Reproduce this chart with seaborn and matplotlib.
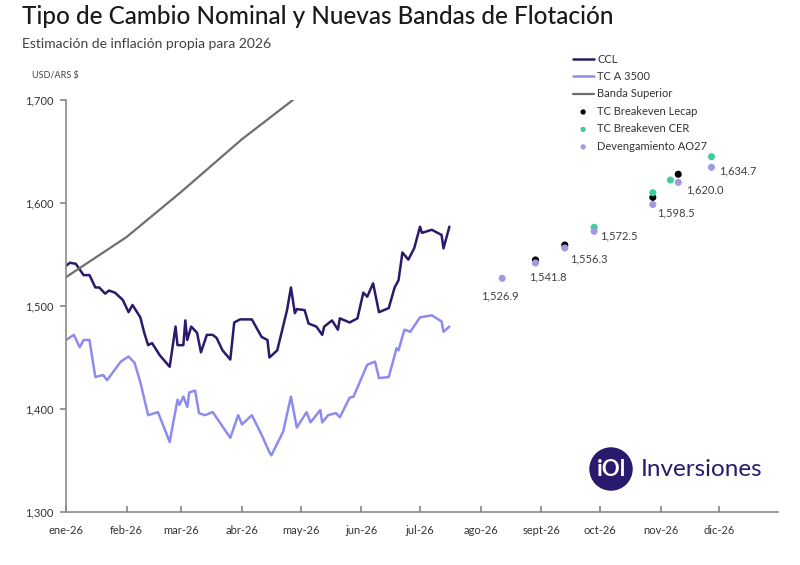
import pandas as pd
import seaborn as sns
import matplotlib.pyplot as plt
import matplotlib.ticker as mticker

sns.set_theme(style="white")
plt.rcParams['font.family'] = ['Lato', 'DejaVu Sans']

# CCL
ccl_dates = ["2026-01-01", "2026-01-03", "2026-01-06", "2026-01-10", "2026-01-13", "2026-01-16",
             "2026-01-18", "2026-01-21", "2026-01-23", "2026-01-26", "2026-01-30", "2026-02-02",
             "2026-02-04", "2026-02-08", "2026-02-10", "2026-02-12", "2026-02-14", "2026-02-18",
             "2026-02-23", "2026-02-26", "2026-02-27", "2026-03-02", "2026-03-03", "2026-03-04",
             "2026-03-06", "2026-03-09", "2026-03-11", "2026-03-14", "2026-03-17", "2026-03-19",
             "2026-03-22", "2026-03-26", "2026-03-28", "2026-03-31", "2026-04-06", "2026-04-11",
             "2026-04-14", "2026-04-15", "2026-04-19", "2026-04-24", "2026-04-26", "2026-04-28",
             "2026-04-29", "2026-05-03", "2026-05-05", "2026-05-09", "2026-05-12", "2026-05-13",
             "2026-05-17", "2026-05-20", "2026-05-21", "2026-05-26", "2026-05-30", "2026-06-02",
             "2026-06-04", "2026-06-07", "2026-06-10", "2026-06-15", "2026-06-18", "2026-06-20",
             "2026-06-22", "2026-06-25", "2026-06-28", "2026-07-01", "2026-07-02", "2026-07-07",
             "2026-07-12", "2026-07-13", "2026-07-16"]
ccl_values = [1539, 1542, 1541, 1530, 1530, 1518, 1518, 1512, 1515, 1513, 1506, 1494,
              1501, 1489, 1474, 1462, 1464, 1452, 1441, 1480, 1462, 1462, 1486, 1467,
              1480, 1474, 1455, 1472, 1472, 1469, 1457, 1448, 1484, 1487, 1487, 1470,
              1467, 1450, 1457, 1496, 1518, 1493, 1497, 1496, 1483, 1480, 1472, 1480,
              1486, 1477, 1488, 1484, 1488, 1513, 1509, 1522, 1494, 1498, 1518, 1525,
              1552, 1545, 1556, 1577, 1571, 1574, 1569, 1556, 1577]

# TC A 3500
tc_dates = ["2026-01-01", "2026-01-05", "2026-01-08", "2026-01-10", "2026-01-13", "2026-01-16",
            "2026-01-20", "2026-01-22", "2026-01-29", "2026-02-02", "2026-02-05", "2026-02-08",
            "2026-02-12", "2026-02-17", "2026-02-23", "2026-02-27", "2026-02-28", "2026-03-02",
            "2026-03-04", "2026-03-05", "2026-03-08", "2026-03-10", "2026-03-13", "2026-03-17",
            "2026-03-26", "2026-03-30", "2026-04-01", "2026-04-06", "2026-04-11", "2026-04-15",
            "2026-04-16", "2026-04-22", "2026-04-26", "2026-04-29", "2026-05-04", "2026-05-06",
            "2026-05-11", "2026-05-12", "2026-05-15", "2026-05-19", "2026-05-21", "2026-05-26",
            "2026-05-28", "2026-06-04", "2026-06-08", "2026-06-10", "2026-06-15", "2026-06-19",
            "2026-06-20", "2026-06-23", "2026-06-26", "2026-07-01", "2026-07-07", "2026-07-12",
            "2026-07-13", "2026-07-16"]
tc_values = [1467, 1472, 1460, 1467, 1467, 1431, 1433, 1428, 1446, 1451, 1445, 1426,
             1394, 1397, 1368, 1409, 1404, 1412, 1402, 1416, 1418, 1396, 1394, 1397,
             1372, 1394, 1385, 1394, 1375, 1358, 1355, 1378, 1412, 1382, 1397, 1387,
             1399, 1387, 1394, 1396, 1392, 1411, 1412, 1443, 1446, 1430, 1431, 1459,
             1457, 1477, 1475, 1489, 1491, 1485, 1475, 1480]

# Banda Superior
banda_dates = ["2026-01-01", "2026-02-01", "2026-03-01", "2026-04-01", "2026-04-27"]
banda_values = [1528, 1567, 1611, 1662, 1700]

# TC Breakeven Lecap
lecap_dates = ["2026-08-29", "2026-09-13", "2026-10-28", "2026-11-10"]
lecap_values = [1544.7, 1559.2, 1605.5, 1627.9]

# TC Breakeven CER
cer_dates = ["2026-09-28", "2026-10-28", "2026-11-06", "2026-11-27"]
cer_values = [1576.4, 1610.0, 1622.3, 1645.0]

# Devengamiento AO27
ao27_dates = ["2026-08-12", "2026-08-29", "2026-09-13", "2026-09-28", "2026-10-28",
              "2026-11-10", "2026-11-27"]
ao27_values = [1526.9, 1541.8, 1556.3, 1572.5, 1598.5, 1620.0, 1634.7]

month_labels = ["ene-26", "feb-26", "mar-26", "abr-26", "may-26", "jun-26",
                "jul-26", "ago-26", "sept-26", "oct-26", "nov-26", "dic-26"]

ccl = pd.DataFrame({"fecha": pd.to_datetime(ccl_dates), "valor": ccl_values})
tc = pd.DataFrame({"fecha": pd.to_datetime(tc_dates), "valor": tc_values})
banda = pd.DataFrame({"fecha": pd.to_datetime(banda_dates), "valor": banda_values})
lecap = pd.DataFrame({"fecha": pd.to_datetime(lecap_dates), "valor": lecap_values})
cer = pd.DataFrame({"fecha": pd.to_datetime(cer_dates), "valor": cer_values})
ao27 = pd.DataFrame({"fecha": pd.to_datetime(ao27_dates), "valor": ao27_values})

fig = plt.figure(figsize=(8, 5.65), dpi=100)
ax = fig.add_axes([0.0825, 0.0938, 0.89, 0.7292])

sns.lineplot(data=ccl, x="fecha", y="valor", ax=ax, color="#2b1a6b", lw=1.8, label="CCL")
sns.lineplot(data=tc, x="fecha", y="valor", ax=ax, color="#8d8cee", lw=1.8, label="TC A 3500")
sns.lineplot(data=banda, x="fecha", y="valor", ax=ax, color="#6e6e6e", lw=1.6, label="Banda Superior")
sns.scatterplot(data=lecap, x="fecha", y="valor", ax=ax, color="black", s=26,
                edgecolor="none", label="TC Breakeven Lecap", zorder=3)
sns.scatterplot(data=cer, x="fecha", y="valor", ax=ax, color="#3ccf9c", s=26,
                edgecolor="none", label="TC Breakeven CER", zorder=4)
sns.scatterplot(data=ao27, x="fecha", y="valor", ax=ax, color="#a09ae4", s=26,
                edgecolor="none", label="Devengamiento AO27", zorder=5)

# etiquetas de AO27
label_offsets = [(-1.4, -12.5, "center"), (-4.3, -10, "left"), (3.6, -7.5, "left"),
                 (4.3, -3.1, "left"), (2.9, -6, "left"), (5.3, -5.3, "left"), (5.3, -2.9, "left")]
for (d, v), (dx, dy, ha) in zip(zip(ao27["fecha"], ao27["valor"]), label_offsets):
    ax.annotate(f"{v:,.1f}", (d, v), xytext=(dx, dy), textcoords="offset points",
                ha=ha, va="center", fontsize=8, color="#404040")

ax.set_ylim(1300, 1700)
ax.set_xlim(pd.Timestamp("2026-01-01"), pd.Timestamp("2026-12-31"))
ax.set_yticks([1300, 1400, 1500, 1600, 1700])
ax.yaxis.set_major_formatter(mticker.StrMethodFormatter("{x:,.0f}"))
ax.set_xticks(pd.date_range("2026-01-01", periods=12, freq="MS"))
ax.set_xticklabels(month_labels)
ax.set_xlabel("")
ax.set_ylabel("")
sns.despine(ax=ax)
for s in ["left", "bottom"]:
    ax.spines[s].set_color("#8a8a8a")
    ax.spines[s].set_linewidth(1.2)
ax.tick_params(axis="x", direction="in", length=4, color="#8a8a8a", labelsize=8,
               labelcolor="#333333", pad=9, bottom=True)
ax.tick_params(axis="y", direction="out", length=4, color="#8a8a8a", labelsize=8,
               labelcolor="#333333", pad=5, left=True)

ax.legend(loc="upper left", bbox_to_anchor=(567 / 800, 1 - 48 / 565),
          bbox_transform=fig.transFigure, frameon=False, fontsize=8,
          handlelength=1.9, handletextpad=0.3, labelspacing=0.58, borderpad=0,
          markerscale=0.75, labelcolor="#333333")

fig.text(0.0275, 0.970, "Tipo de Cambio Nominal y Nuevas Bandas de Flotación",
         fontsize=17.5, fontweight="medium", color="#1a1a1a", va="center", ha="left")
fig.text(0.0275, 0.922, "Estimación de inflación propia para 2026",
         fontsize=10, color="#404040", va="center", ha="left")
fig.text(0.04, 0.867, "USD/ARS $", fontsize=6.5, color="#404040", va="center", ha="left")

# logo
fig.text(611 / 800, 1 - 469 / 565, "iOl", fontsize=16, fontweight="bold", color="white",
         ha="center", va="center",
         bbox=dict(boxstyle="circle,pad=0.32", fc="#2a1a6e", ec="none"))
fig.text(641 / 800, 1 - 470 / 565, "Inversiones", fontsize=17.5, color="#2a1a6e",
         ha="left", va="center")

fig.savefig("out.png", dpi=100)
